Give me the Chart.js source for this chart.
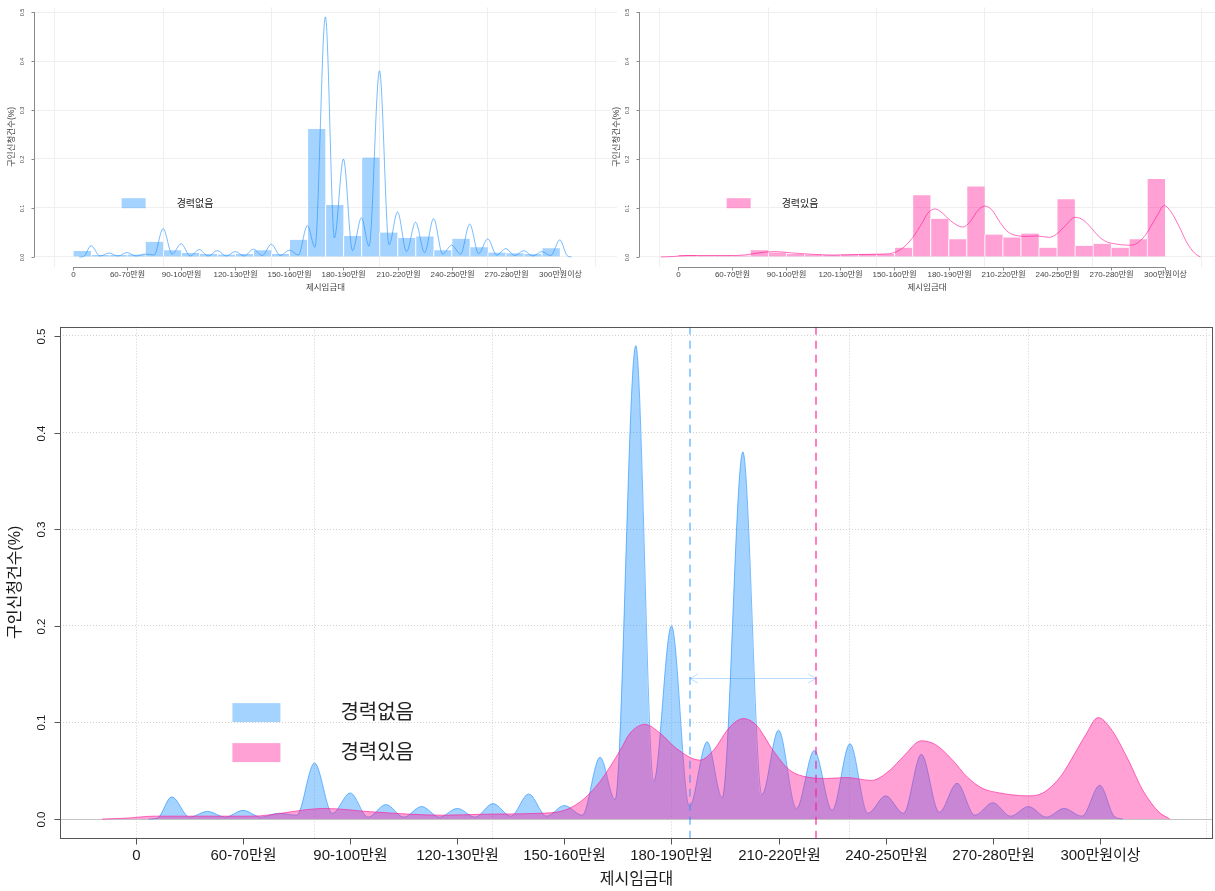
<!DOCTYPE html>
<html>
<head>
<meta charset="utf-8">
<script src="https://cdn.jsdelivr.net/npm/chart.js@4.4.1/dist/chart.umd.min.js"></script>
<style>
  html, body { margin: 0; padding: 0; background: #fff; }
  #wrap { position: relative; width: 1215px; height: 891px; overflow: hidden; }
  #wrap canvas { position: absolute; left: 0; top: 0; }
  .soft { filter: blur(0.45px); }
</style>
</head>
<body>
<div id="wrap">
  <canvas id="panelNoExp" width="1215" height="891" class="soft"></canvas>
  <canvas id="panelExp" width="1215" height="891" class="soft"></canvas>
  <canvas id="panelBoth" width="1215" height="891"></canvas>
</div>
<script>
// Salary bands (numeric band index on the x axis); every third band is labelled
const bandLabels = ['0', '60-70만원', '90-100만원', '120-130만원', '150-160만원',
                    '180-190만원', '210-220만원', '240-250만원', '270-280만원', '300만원이상'];
const bandLabelAt = [0, 3, 6, 9, 12, 15, 18, 21, 24, 27];
const shareTicks = [0, 0.1, 0.2, 0.3, 0.4, 0.5];

const seriesNames = ['경력없음', '경력있음'];
const xTitle = '제시임금대';
const yTitle = '구인신청건수(%)';

// Histogram shares, one value per band interval [k, k+1], k = 0..26
const histNoExp = [0.012, 0.004, 0.004, 0.005, 0.031, 0.014, 0.008, 0.006, 0.005,
                   0.006, 0.014, 0.006, 0.035, 0.261, 0.106, 0.043, 0.203, 0.050,
                   0.039, 0.042, 0.014, 0.037, 0.020, 0.009, 0.0075, 0.006, 0.018];
const histExp   = [0.004, 0.003, 0.003, 0.003, 0.014, 0.009, 0.006, 0.005, 0.004,
                   0.005, 0.006, 0.006, 0.019, 0.126, 0.078, 0.036, 0.144, 0.046,
                   0.040, 0.048, 0.019, 0.118, 0.023, 0.027, 0.019, 0.036, 0.159];

// Kernel density estimates: [band index, share]
const densNoExp = [
  [0.35, 0], [0.6, 0.001], [1, 0.023], [1.5, 0.002], [2, 0.008], [2.5, 0.002], [3, 0.009],
  [3.5, 0.002], [4, 0.006], [4.5, 0.004], [5, 0.058], [5.5, 0.006], [6, 0.027], [6.5, 0.002],
  [7, 0.015], [7.5, 0.002], [8, 0.013], [8.5, 0.002], [9, 0.011], [9.5, 0.002], [10, 0.016],
  [10.5, 0.003], [11, 0.026], [11.5, 0.003], [12, 0.014], [12.5, 0.004], [13, 0.064],
  [13.42, 0.020], [14, 0.490], [14.5, 0.039], [15, 0.200], [15.5, 0.013], [16, 0.080],
  [16.42, 0.022], [17, 0.380], [17.53, 0.025], [18, 0.092], [18.5, 0.011], [19, 0.071],
  [19.5, 0.009], [20, 0.078], [20.5, 0.006], [21, 0.024], [21.5, 0.006], [22, 0.067],
  [22.5, 0.007], [23, 0.037], [23.5, 0.004], [24, 0.017], [24.5, 0.003], [25, 0.013],
  [25.5, 0.002], [26, 0.011], [26.5, 0.003], [27, 0.035], [27.4, 0.003], [27.65, 0]
];
const densExp = [
  [-0.95, 0], [-0.25, 0.001], [0.5, 0.003], [3.2, 0.003], [5.3, 0.011], [6.6, 0.0075],
  [8.6, 0.004], [9.7, 0.005], [11.3, 0.006], [11.9, 0.008], [12.45, 0.018], [13.0, 0.039],
  [13.56, 0.071], [13.84, 0.089], [14.26, 0.098], [14.68, 0.089], [15.14, 0.073],
  [15.8, 0.061], [16.17, 0.071], [16.64, 0.0955], [17.01, 0.104], [17.38, 0.097],
  [17.85, 0.071], [18.3, 0.051], [18.88, 0.043], [19.35, 0.042], [19.9, 0.043],
  [20.6, 0.040], [21.1, 0.050], [21.5, 0.065], [22.0, 0.081], [22.4, 0.077],
  [22.85, 0.062], [23.3, 0.043], [23.7, 0.032], [24.2, 0.027], [25.0, 0.024],
  [25.4, 0.027], [25.9, 0.044], [26.3, 0.068], [26.6, 0.087], [26.95, 0.105],
  [27.3, 0.094], [27.8, 0.061], [28.2, 0.030], [28.65, 0.0075], [28.96, 0]
];

// Mean band of each group and the level of the arrow joining them
const groupMeans = [15.52, 19.05];
const meanGapLevel = 0.146;
// Legend anchor in data units (band, share)
const legendAnchor = [2.7, 0.12];

const FONT = "'Liberation Sans', 'Noto Sans CJK KR', sans-serif";
const BLUE = 'rgba(30,144,255,0.4)';
const BLUE_LINE = 'rgba(30,144,255,0.6)';
const PINK = 'rgba(255,20,147,0.4)';
const PINK_LINE = 'rgba(255,20,147,0.6)';

Chart.defaults.font.family = FONT;

const pts = arr => arr.map(([x, y]) => ({ x, y }));

// Base-graphics style axes, legend and annotations drawn on the chart's own scales
function baseGraphics(c) {
  return {
    id: 'baseGraphics',
    beforeDatasetsDraw(chart) {
      if (!c.zeroLine) return;
      const { ctx, chartArea: a, scales: { y } } = chart;
      const py = Math.round(y.getPixelForValue(0)) + 0.5;
      ctx.save();
      ctx.strokeStyle = c.zeroLine;
      ctx.lineWidth = 1;
      ctx.beginPath(); ctx.moveTo(a.left, py); ctx.lineTo(a.right, py); ctx.stroke();
      ctx.restore();
    },
    afterDatasetsDraw(chart) {
      const { ctx, chartArea: a, scales: { x, y } } = chart;
      ctx.save();

      // group means and the gap between them
      if (c.means) {
        c.means.forEach((m, i) => {
          const px = Math.round(x.getPixelForValue(m));
          ctx.strokeStyle = c.meanColors[i];
          ctx.lineWidth = 2;
          ctx.setLineDash([8, 6]);
          ctx.beginPath(); ctx.moveTo(px, a.top); ctx.lineTo(px, a.bottom); ctx.stroke();
        });
        ctx.setLineDash([]);
        const x1 = x.getPixelForValue(c.means[0]);
        const x2 = x.getPixelForValue(c.means[1]);
        const py = Math.round(y.getPixelForValue(c.gapLevel)) + 0.5;
        const len = 9, ang = Math.PI / 6;
        ctx.strokeStyle = 'rgba(30,144,255,0.3)';
        ctx.lineWidth = 1;
        ctx.beginPath();
        ctx.moveTo(x1, py); ctx.lineTo(x2, py);
        ctx.moveTo(x1 + len * Math.cos(ang), py - len * Math.sin(ang));
        ctx.lineTo(x1, py);
        ctx.lineTo(x1 + len * Math.cos(ang), py + len * Math.sin(ang));
        ctx.moveTo(x2 - len * Math.cos(ang), py - len * Math.sin(ang));
        ctx.lineTo(x2, py);
        ctx.lineTo(x2 - len * Math.cos(ang), py + len * Math.sin(ang));
        ctx.stroke();
      }

      // legend
      const lx = x.getPixelForValue(legendAnchor[0]);
      const ly = y.getPixelForValue(legendAnchor[1]);
      const L = c.legend;
      c.legendItems.forEach((it, i) => {
        const top = ly + i * L.row;
        ctx.fillStyle = it.color;
        ctx.fillRect(lx, top, L.boxW, L.boxH);
        ctx.fillStyle = '#222';
        ctx.font = `${L.font}px ${FONT}`;
        ctx.textAlign = 'left';
        ctx.textBaseline = 'middle';
        ctx.fillText(it.name, lx + L.textDx, top + L.boxH / 2 + 1);
      });

      // axes
      ctx.strokeStyle = c.axisColor;
      ctx.fillStyle = c.textColor;
      ctx.lineWidth = 1;
      const bottom = Math.round(a.bottom) + 0.5;
      const left = Math.round(a.left) + 0.5;
      if (c.box) {
        ctx.strokeRect(left, Math.round(a.top) + 0.5,
                       Math.round(a.right) - Math.round(a.left) - 1,
                       Math.round(a.bottom) - Math.round(a.top));
      } else {
        ctx.beginPath();
        ctx.moveTo(x.getPixelForValue(bandLabelAt[0]), bottom);
        ctx.lineTo(x.getPixelForValue(bandLabelAt[bandLabelAt.length - 1]), bottom);
        ctx.moveTo(left, y.getPixelForValue(shareTicks[0]));
        ctx.lineTo(left, y.getPixelForValue(shareTicks[shareTicks.length - 1]));
        ctx.stroke();
      }
      // x ticks and labels
      ctx.font = `${c.xFont}px ${FONT}`;
      ctx.textAlign = 'center';
      ctx.textBaseline = 'middle';
      bandLabelAt.forEach((b, i) => {
        const px = Math.round(x.getPixelForValue(b)) + 0.5;
        ctx.beginPath(); ctx.moveTo(px, bottom); ctx.lineTo(px, bottom + c.tick); ctx.stroke();
        ctx.fillText(bandLabels[i], px, a.bottom + c.xLabelDy);
      });
      // y ticks and rotated labels
      ctx.font = `${c.yFont}px ${FONT}`;
      shareTicks.forEach(v => {
        const py = Math.round(y.getPixelForValue(v)) + 0.5;
        ctx.beginPath(); ctx.moveTo(left, py); ctx.lineTo(left - c.tick, py); ctx.stroke();
        ctx.save();
        ctx.translate(a.left - c.yLabelDx, py);
        ctx.rotate(-Math.PI / 2);
        ctx.fillText(v.toFixed(1), 0, 0);
        ctx.restore();
      });
      // titles
      ctx.font = `${c.titleFont}px ${FONT}`;
      ctx.fillText(xTitle, (a.left + a.right) / 2, a.bottom + c.xTitleDy);
      ctx.save();
      ctx.translate(a.left - c.yTitleDx, (a.top + a.bottom) / 2);
      ctx.rotate(-Math.PI / 2);
      ctx.fillText(yTitle, 0, 0);
      ctx.restore();

      ctx.restore();
    }
  };
}

function scales(xMin, xMax, gridX, gridColor, dash) {
  return {
    x: {
      type: 'linear', min: xMin, max: xMax, offset: false,
      ticks: { display: false },
      grid: { color: gridColor, lineWidth: 1, drawTicks: false, offset: false },
      border: { display: false, dash: dash },
      afterBuildTicks: s => { s.ticks = gridX.map(v => ({ value: v })); }
    },
    y: {
      type: 'linear', min: -0.0196, max: 0.5096,
      ticks: { display: false },
      grid: { color: gridColor, lineWidth: 1, drawTicks: false },
      border: { display: false, dash: dash },
      afterBuildTicks: s => { s.ticks = shareTicks.map(v => ({ value: v })); }
    }
  };
}

const commonOpts = {
  responsive: false, animation: false, devicePixelRatio: 1, events: [],
};

function topPanel(id, hist, dens, name, fill, line, pad, xMax) {
  new Chart(document.getElementById(id), {
    type: 'bar',
    data: {
      datasets: [
        { type: 'line', label: name, data: pts(dens), borderColor: line, borderWidth: 1,
          pointRadius: 0, cubicInterpolationMode: 'monotone', fill: false, order: 0 },
        { type: 'bar', label: name, data: hist.map((v, k) => ({ x: k + 0.5, y: v })),
          backgroundColor: fill, borderColor: '#ffffff',
          borderWidth: { left: 1, right: 0, top: 0, bottom: 0 },
          barPercentage: 1, categoryPercentage: 1, order: 1 }
      ]
    },
    options: Object.assign({}, commonOpts, {
      layout: { padding: pad },
      plugins: { legend: { display: false }, tooltip: { enabled: false } },
      scales: scales(-2.16, xMax, [-1, 5, 11, 17, 23, 29], '#efefef', [])
    }),
    plugins: [baseGraphics({
      box: false, axisColor: '#8a8a8a', textColor: '#444', tick: 3,
      xFont: 8, xLabelDy: 8.5, yFont: 5.5, yLabelDx: 12,
      titleFont: 8.5, xTitleDy: 21.5, yTitleDx: 22,
      legend: { boxW: 24, boxH: 10, row: 20, textDx: 55, font: 10 },
      legendItems: [{ name, color: fill }]
    })]
  });
}

topPanel('panelNoExp', histNoExp, densNoExp, seriesNames[0], BLUE, BLUE_LINE,
         { left: 34, right: 598, top: 7.3, bottom: 624.4 }, 30.17);
topPanel('panelExp', histExp, densExp, seriesNames[1], PINK, PINK_LINE,
         { left: 639, right: 0, top: 7.3, bottom: 624.4 }, 29.77);

new Chart(document.getElementById('panelBoth'), {
  type: 'line',
  data: {
    datasets: [
      { label: seriesNames[1], data: pts(densExp), borderColor: PINK_LINE, backgroundColor: PINK,
        borderWidth: 1, pointRadius: 0, cubicInterpolationMode: 'monotone', fill: 'origin', order: 0 },
      { label: seriesNames[0], data: pts(densNoExp), borderColor: BLUE_LINE, backgroundColor: BLUE,
        borderWidth: 1, pointRadius: 0, cubicInterpolationMode: 'monotone', fill: 'origin', order: 1 }
    ]
  },
  options: Object.assign({}, commonOpts, {
    layout: { padding: { left: 60, right: 2, top: 326.7, bottom: 53 } },
    plugins: { legend: { display: false }, tooltip: { enabled: false } },
    scales: scales(-2.13, 30.17, [0, 5, 10, 15, 20, 25, 30], '#d0d0d0', [1, 2])
  }),
  plugins: [baseGraphics({
    box: true, zeroLine: '#c4c4c4', axisColor: '#555', textColor: '#1a1a1a', tick: 6,
    xFont: 15, xLabelDy: 18, yFont: 11.5, yLabelDx: 18,
    titleFont: 16, xTitleDy: 42, yTitleDx: 44,
    means: groupMeans, gapLevel: meanGapLevel,
    meanColors: ['rgba(30,144,255,0.45)', 'rgba(255,20,147,0.55)'],
    legend: { boxW: 48, boxH: 19, row: 40, textDx: 108, font: 20 },
    legendItems: [{ name: seriesNames[0], color: BLUE }, { name: seriesNames[1], color: PINK }]
  })]
});
</script>
</body>
</html>
